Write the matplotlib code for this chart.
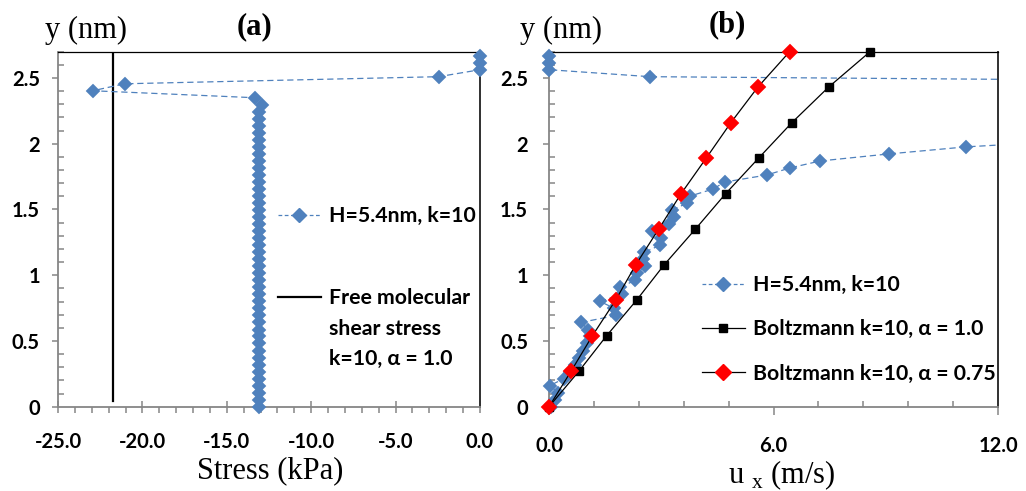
import matplotlib
matplotlib.use('Agg')
import matplotlib.pyplot as plt
from matplotlib.ticker import MultipleLocator, FuncFormatter
from matplotlib.lines import Line2D

# ---------------- data ----------------
y_md = [0.000, 0.053, 0.107, 0.160, 0.214, 0.267, 0.320, 0.374, 0.427, 0.481,
        0.534, 0.587, 0.641, 0.694, 0.748, 0.801, 0.854, 0.908, 0.961, 1.015,
        1.068, 1.121, 1.175, 1.228, 1.282, 1.335, 1.388, 1.442, 1.495, 1.549,
        1.602, 1.655, 1.709, 1.762, 1.816, 1.869, 1.923, 1.976, 2.029, 2.083,
        2.136, 2.190, 2.243, 2.296, 2.350, 2.403, 2.456, 2.510, 2.563, 2.617,
        2.670]

stress_md = [-13.10, -13.08, -13.12, -13.10, -13.07, -13.11, -13.09, -13.10, -13.12, -13.08,
             -13.10, -13.09, -13.11, -13.08, -13.10, -13.12, -13.09, -13.10, -13.08, -13.11,
             -13.10, -13.09, -13.12, -13.08, -13.10, -13.11, -13.09, -13.10, -13.08, -13.12,
             -13.10, -13.09, -13.11, -13.10, -13.08, -13.10, -13.12, -13.09, -13.10, -13.08,
             -13.11, -13.10, -13.09, -12.94, -13.34, -22.94, -21.05, -2.45, 0.0, 0.0,
             0.0]

u_md = [0.05, 0.15, 0.25, 0.02, 0.40, 0.55, 0.70, 0.80, 0.92, 1.02,
        1.10, 1.05, 0.85, 1.80, 1.75, 1.36, 1.95, 1.90, 2.30, 2.34,
        2.57, 2.52, 2.55, 2.97, 2.99, 2.75, 3.21, 3.34, 3.28, 3.70,
        3.77, 4.38, 4.70, 5.82, 6.44, 7.25, 9.10, 11.14, 14.4, 17.0,
        19.5, 22.0, 24.5, 26.5, 28.5, 29.5, 28.0, 2.70, 0.0, 0.0,
        0.0]

free_mol_stress = [-21.72, -21.72]
free_mol_y = [0.04, 2.70]

y_boltz = [0.0, 0.27, 0.54, 0.81, 1.08, 1.35, 1.62, 1.89, 2.16, 2.43, 2.70]
u_boltz_a10 = [0.0, 0.80, 1.54, 2.34, 3.08, 3.91, 4.72, 5.60, 6.49, 7.47, 8.58]
u_boltz_a075 = [0.0, 0.59, 1.16, 1.78, 2.32, 2.93, 3.53, 4.20, 4.86, 5.58, 6.43]

label_md = 'H=5.4nm, k=10'
label_free = ['Free molecular', 'shear stress', 'k=10, α = 1.0']
label_b10 = 'Boltzmann k=10, α = 1.0'
label_b075 = 'Boltzmann k=10, α = 0.75'

# ---------------- style ----------------
BLUE = '#4F81BD'
GRAY = '#868686'
SANS = ['Lato', 'DejaVu Sans']
SERIF = ['Liberation Serif', 'DejaVu Serif']
plt.rcParams['font.family'] = SANS
plt.rcParams['font.weight'] = 'bold'
plt.rcParams['mathtext.fontset'] = 'custom'
plt.rcParams['mathtext.rm'] = 'Liberation Serif'

W, H = 1026, 491
fig = plt.figure(figsize=(W / 100, H / 100), dpi=100)

def fx(px):
    return px / W

def fy(py):
    return 1 - py / H

ax_a = fig.add_axes([fx(58), fy(406.7), fx(480) - fx(58), fy(51.7) - fy(406.7)])
ax_b = fig.add_axes([fx(549), fy(406.7), fx(998) - fx(549), fy(51.7) - fy(406.7)])

TICK_SIZE = 14.5

def style_axes(ax, ypad):
    for s in ['left', 'bottom']:
        ax.spines[s].set_color(GRAY)
        ax.spines[s].set_linewidth(1.3)
    ax.spines['top'].set_color('black')
    ax.spines['top'].set_linewidth(0.9)
    ax.spines['right'].set_color('#303030')
    ax.spines['right'].set_linewidth(1.4)
    ax.set_ylim(0, 2.7)
    ax.yaxis.set_major_locator(MultipleLocator(0.5))
    ax.yaxis.set_minor_locator(MultipleLocator(0.1))
    ax.yaxis.set_major_formatter(FuncFormatter(lambda v, p: f'{v:g}'))
    ax.tick_params(axis='y', which='major', direction='out', length=4, width=1.1,
                   color=GRAY, pad=ypad)
    ax.tick_params(axis='y', which='minor', direction='in', length=4, width=1.1,
                   color=GRAY)
    ax.tick_params(axis='both', which='major', labelsize=TICK_SIZE)

# ---- panel (a) ----
ax_a.set_xlim(-25, 0)
ax_a.xaxis.set_major_locator(MultipleLocator(5))
ax_a.xaxis.set_minor_locator(MultipleLocator(1))
ax_a.xaxis.set_major_formatter(FuncFormatter(lambda v, p: f'{v:.1f}'))
ax_a.tick_params(axis='x', which='major', direction='inout', length=9, width=1.1,
                 color=GRAY, pad=14)
ax_a.tick_params(axis='x', which='minor', direction='out', length=4, width=1.1,
                 color=GRAY)
ax_a.plot(stress_md, y_md, linestyle=(0, (5, 3)), color=BLUE, lw=0.9,
          marker='D', markersize=7.5, markerfacecolor=BLUE, markeredgecolor=BLUE,
          markeredgewidth=0.3, clip_on=False, zorder=3)
ax_a.plot(free_mol_stress, free_mol_y, color='black', lw=1.6, zorder=2)
style_axes(ax_a, 9)

leg_font = dict(family=SANS, weight='bold', size=15.3)
h_md = Line2D([], [], linestyle=(0, (3, 2)), color=BLUE, lw=0.9, marker='D',
              markersize=7.5, markerfacecolor=BLUE, markeredgecolor=BLUE)
h_free = Line2D([], [], color='black', lw=1.6)
h_none = Line2D([], [], linestyle='none')

leg1 = ax_a.legend([h_md], [label_md], loc='upper left',
                   bbox_to_anchor=(fx(278), fy(206)), bbox_transform=fig.transFigure,
                   frameon=False, prop=leg_font, handlelength=2.0, handletextpad=0.4,
                   borderpad=0, borderaxespad=0)
ax_a.add_artist(leg1)
ax_a.legend([h_free, h_none, h_none], label_free, loc='upper left',
            bbox_to_anchor=(fx(278), fy(288)), bbox_transform=fig.transFigure,
            frameon=False, prop=leg_font, handlelength=2.0, handletextpad=0.4,
            borderpad=0, borderaxespad=0, labelspacing=0.5)

# ---- panel (b) ----
ax_b.set_xlim(0, 12)
ax_b.xaxis.set_major_locator(MultipleLocator(6))
ax_b.xaxis.set_minor_locator(MultipleLocator(1.2))
ax_b.xaxis.set_major_formatter(FuncFormatter(lambda v, p: f'{v:.1f}'))
ax_b.tick_params(axis='x', which='major', direction='out', length=6, width=1.1,
                 color=GRAY, pad=15)
ax_b.tick_params(axis='x', which='minor', direction='in', length=4, width=1.1,
                 color=GRAY)
# dashed line (clipped to axes) and unclipped markers
ax_b.plot(u_md, y_md, linestyle=(0, (5, 3)), color=BLUE, lw=0.9, zorder=2)
ax_b.plot(u_md, y_md, linestyle='none', marker='D', markersize=7.5,
          markerfacecolor=BLUE, markeredgecolor=BLUE, markeredgewidth=0.3,
          clip_on=False, zorder=3)
ax_b.plot(u_boltz_a10, y_boltz, color='black', lw=0.9, marker='s', markersize=5.5,
          markerfacecolor='black', markeredgecolor='black', clip_on=False, zorder=4)
ax_b.plot(u_boltz_a075, y_boltz, color='black', lw=0.9, marker='D', markersize=8,
          markerfacecolor='#FF0000', markeredgecolor='#FF0000', markeredgewidth=0.3,
          clip_on=False, zorder=5)
style_axes(ax_b, 11)

h_md_b = Line2D([], [], linestyle=(0, (3, 2)), color=BLUE, lw=0.9, marker='D',
                markersize=7.5, markerfacecolor=BLUE, markeredgecolor=BLUE)
h_b10 = Line2D([], [], color='black', lw=0.9, marker='s', markersize=5.5,
               markerfacecolor='black', markeredgecolor='black')
h_b075 = Line2D([], [], color='black', lw=0.9, marker='D', markersize=8,
                markerfacecolor='#FF0000', markeredgecolor='#FF0000')
ax_b.legend([h_md_b, h_b10, h_b075], [label_md, label_b10, label_b075],
            loc='upper left', bbox_to_anchor=(fx(702), fy(275)),
            bbox_transform=fig.transFigure, frameon=False, prop=leg_font,
            handlelength=2.0, handletextpad=0.4, borderpad=0, borderaxespad=0,
            labelspacing=1.15)

# ---- titles and axis labels ----
big = dict(family=SERIF, size=22)
fig.text(fx(45), fy(30), 'y (nm)', ha='left', va='center', weight='normal', **big)
fig.text(fx(520), fy(30), 'y (nm)', ha='left', va='center', weight='normal', **big)
fig.text(fx(255), fy(27), '(a)', ha='center', va='center', weight='bold', **big)
fig.text(fx(727), fy(25), '(b)', ha='center', va='center', weight='bold', **big)
fig.text(fx(270), fy(471), 'Stress (kPa)', ha='center', va='center', weight='normal', **big)
fig.text(fx(782), fy(475), r'u $_{\mathregular{x}}$ (m/s)', ha='center', va='center',
         weight='normal', **big)

fig.savefig('out.png', dpi=100)
